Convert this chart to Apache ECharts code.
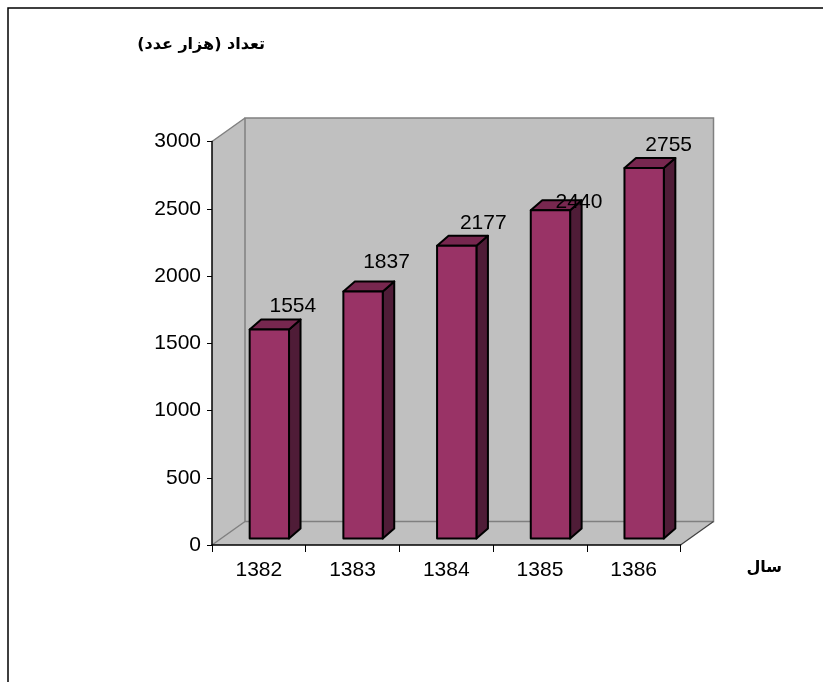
<!DOCTYPE html>
<html>
<head>
<meta charset="utf-8">
<script src="https://cdn.jsdelivr.net/npm/echarts@6.0.0/dist/echarts.min.js"></script>
<style>
html,body{margin:0;padding:0;background:#fff;}
#chart{width:823px;height:682px;}
</style>
</head>
<body>
<div id="chart"></div>
<script>
// ---- data ----
const categories = ['1382', '1383', '1384', '1385', '1386'];
const values = [1554, 1837, 2177, 2440, 2755];
const yTicks = [0, 500, 1000, 1500, 2000, 2500, 3000];
const titleText = '\u200Fتعداد (هزار عدد)\u200F';
const xAxisName = 'سال';

// ---- label placement (style, relative to bar top) ----
const labelNudge = [[34, -30], [34, -36], [37, -29], [39, -15], [35, -29]];

// ---- 3D styling ----
const WALL_DEPTH = [33, -23.5];
const BAR_SHIFT = [10.5, -6.5];
const BAR_DEPTH = [11.5, -10];
const BAR_RATIO = 0.42;
const FONT = '"Liberation Sans", Arial, sans-serif';

const chart = echarts.init(document.getElementById('chart'), null, {renderer: 'canvas'});

function renderWalls(params, api) {
  const cs = params.coordSys;
  const x = cs.x, y = cs.y, w = cs.width, h = cs.height;
  const dx = WALL_DEPTH[0], dy = WALL_DEPTH[1];
  const grey = '#808080';
  return {
    type: 'group',
    children: [
      {type: 'polygon', shape: {points: [[x, y + h], [x, y], [x + dx, y + dy], [x + w + dx, y + dy], [x + w + dx, y + h + dy], [x + w, y + h]]},
        style: {fill: '#C0C0C0', stroke: null}},
      {type: 'polygon', shape: {points: [[x + dx, y + dy], [x + w + dx, y + dy], [x + w + dx, y + h + dy], [x + dx, y + h + dy]]},
        style: {fill: null, stroke: grey, lineWidth: 1.5}},
      {type: 'line', shape: {x1: x, y1: y, x2: x + dx, y2: y + dy}, style: {stroke: grey, lineWidth: 1.5}},
      {type: 'line', shape: {x1: x, y1: y + h, x2: x + dx, y2: y + h + dy}, style: {stroke: grey, lineWidth: 1.5}},
      {type: 'line', shape: {x1: x + w, y1: y + h, x2: x + w + dx, y2: y + h + dy}, style: {stroke: '#404040', lineWidth: 1.2}}
    ]
  };
}

function renderBar(params, api) {
  const i = api.value(0);
  const v = api.value(1);
  const top = api.coord([i, v]);
  const base = api.coord([i, 0]);
  const band = api.size([1, 0])[0];
  const w = band * BAR_RATIO;
  const x0 = top[0] - w / 2 + BAR_SHIFT[0];
  const x1 = x0 + w;
  const yT = top[1] + BAR_SHIFT[1];
  const yB = base[1] + BAR_SHIFT[1];
  const dx = BAR_DEPTH[0], dy = BAR_DEPTH[1];
  const lineStyle = {stroke: '#000', lineWidth: 2, lineJoin: 'round'};
  const nudge = labelNudge[params.dataIndex];
  return {
    type: 'group',
    children: [
      {type: 'polygon', shape: {points: [[x1, yT], [x1 + dx, yT + dy], [x1 + dx, yB + dy], [x1, yB]]},
        style: Object.assign({fill: '#4F1C37'}, lineStyle)},
      {type: 'polygon', shape: {points: [[x0, yT], [x0 + dx, yT + dy], [x1 + dx, yT + dy], [x1, yT]]},
        style: Object.assign({fill: '#77274F'}, lineStyle)},
      {type: 'polygon', shape: {points: [[x0, yT], [x1, yT], [x1, yB], [x0, yB]]},
        style: Object.assign({fill: '#993366'}, lineStyle)},
      {type: 'text', z2: 10, style: {text: String(v), x: top[0] + nudge[0], y: top[1] + nudge[1],
        textAlign: 'center', textVerticalAlign: 'middle', fill: '#000', font: '21px ' + FONT}}
    ]
  };
}

const option = {
  animation: false,
  backgroundColor: '#fff',
  grid: {left: 212, right: 142.5, top: 141.5, bottom: 137, containLabel: false},
  xAxis: {
    type: 'category',
    data: categories,
    z: 5,
    axisLine: {show: true, lineStyle: {color: '#000', width: 1.5}},
    axisTick: {show: true, alignWithLabel: false, length: 7, lineStyle: {color: '#000', width: 1}},
    axisLabel: {color: '#000', fontSize: 21, fontFamily: FONT, margin: 15},
    splitLine: {show: false}
  },
  yAxis: {
    type: 'value',
    min: yTicks[0],
    max: yTicks[yTicks.length - 1],
    interval: yTicks[1] - yTicks[0],
    z: 5,
    axisLine: {show: true, lineStyle: {color: '#000', width: 1.5}},
    axisTick: {show: true, length: 5, lineStyle: {color: '#000', width: 1}},
    axisLabel: {color: '#000', fontSize: 21, fontFamily: FONT, margin: 11, formatter: (v) => String(v)},
    splitLine: {show: false}
  },
  series: [
    {type: 'custom', name: 'walls', z: 1, silent: true, renderItem: renderWalls, data: [[0, 0]], clip: false},
    {type: 'custom', name: 'bars', z: 2, silent: true, renderItem: renderBar, clip: false,
      data: values.map((v, i) => [i, v])}
  ],
  graphic: [
    {type: 'rect', x: 8, y: 8, shape: {x: 0, y: 0, width: 840, height: 700}, style: {fill: null, stroke: '#000', lineWidth: 1.5}, z: 0},
    {type: 'text', x: 265, y: 45, style: {text: titleText, textAlign: 'right', textVerticalAlign: 'middle', fill: '#000',
      font: 'bold 16px "DejaVu Sans", "Noto Sans", sans-serif'}},
    {type: 'text', x: 782, y: 568, style: {text: xAxisName, textAlign: 'right', textVerticalAlign: 'middle', fill: '#000',
      font: 'bold 16px "DejaVu Sans", "Noto Sans", sans-serif'}}
  ]
};
chart.setOption(option);
</script>
</body>
</html>
